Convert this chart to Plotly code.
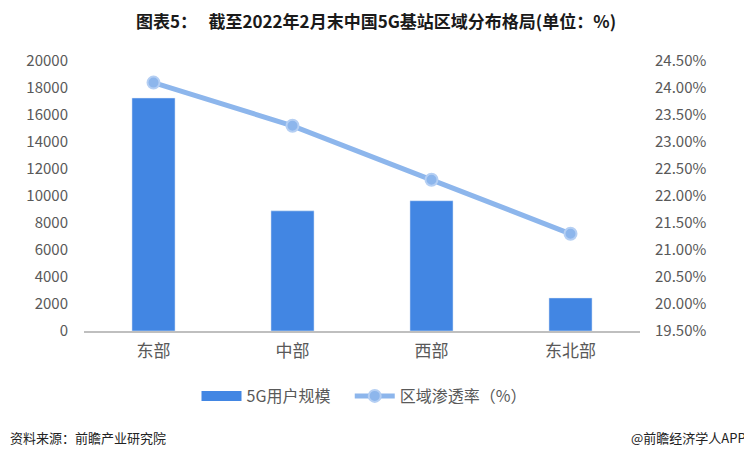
import plotly.graph_objects as go

categories = ["东部", "中部", "西部", "东北部"]
users_5g = [17260, 8900, 9650, 2450]
penetration = [24.1, 23.3, 22.3, 21.3]
left_ticks = list(range(0, 20001, 2000))
left_ticktext = [str(v) for v in left_ticks]
right_ticks = [19.5 + 0.5 * i for i in range(11)]
right_ticktext = ["%.2f%%" % v for v in right_ticks]

font_family = "Noto Sans CJK SC, Open Sans, sans-serif"
BAR_COLOR = "#4286E3"
LINE_COLOR = "#8DB6EC"

# page has an 8px body margin; compensate so the picture lines up
W, H = 744, 450
L, R, T, B = 76, 112, 53, 127
PW, PH = W - L - R, H - T - B

fig = go.Figure()
fig.add_trace(go.Bar(
    x=categories, y=users_5g, name="5G用户规模",
    marker=dict(color=BAR_COLOR), width=0.31, yaxis="y", showlegend=False,
))
# legend stand-in for the bar series (wide rectangle swatch)
fig.add_trace(go.Scatter(
    x=[None], y=[None], name="5G用户规模\u00a0\u00a0\u00a0\u00a0", mode="lines",
    line=dict(color=BAR_COLOR, width=11), yaxis="y",
))
fig.add_trace(go.Scatter(
    x=categories, y=penetration, name="区域渗透率（%）", yaxis="y2",
    mode="lines+markers",
    line=dict(color=LINE_COLOR, width=5),
    marker=dict(size=12, color=LINE_COLOR, line=dict(color="#B5CFF3", width=2)),
))

fig.update_layout(
    width=W, height=H,
    margin=dict(l=L, r=R, t=T, b=B, autoexpand=False),
    paper_bgcolor="white", plot_bgcolor="white",
    font=dict(family=font_family, color="#595959", size=14),
    title=dict(text="<b>图表5：   截至2022年2月末中国5G基站区域分布格局(单位：%)</b>",
               xref="container", x=(376 - 8) / W, xanchor="center",
               yref="container", y=1 - 14 / H, yanchor="middle",
               font=dict(size=17, color="#1a1a1a", family=font_family)),
    xaxis=dict(showline=True, linecolor="#BFBFBF", linewidth=1.5, ticks="",
               tickfont=dict(size=17, color="#595959"), showgrid=False,
               ticklabelstandoff=4),
    yaxis=dict(range=[0, 20000], tickvals=left_ticks, ticktext=left_ticktext,
               showgrid=False, zeroline=False,
               ticks="", tickfont=dict(size=15, color="#595959"), ticklabelstandoff=15),
    yaxis2=dict(range=[19.5, 24.5], tickvals=right_ticks, ticktext=right_ticktext,
                overlaying="y", side="right",
                showgrid=False, zeroline=False,
                ticks="", tickfont=dict(size=15, color="#595959"), ticklabelstandoff=14),
    legend=dict(orientation="h", x=(364 - 8 - L) / PW, xanchor="center",
                y=(PH - (396 - 8 - T)) / PH, yanchor="middle",
                font=dict(size=16, color="#595959"), itemwidth=40),
    showlegend=True,
)

fig.add_annotation(text="资料来源：前瞻产业研究院", xref="paper", yref="paper",
                   x=-L / PW, y=(PH - (437 - 8 - T)) / PH, xanchor="left", yanchor="middle",
                   showarrow=False, font=dict(size=13, color="#222222"))
fig.add_annotation(text="@前瞻经济学人APP", xref="paper", yref="paper",
                   x=(748 - 8 - L) / PW, y=(PH - (437 - 8 - T)) / PH,
                   xanchor="right", yanchor="middle",
                   showarrow=False, font=dict(size=13, color="#222222"))

fig.write_html("out.html")
